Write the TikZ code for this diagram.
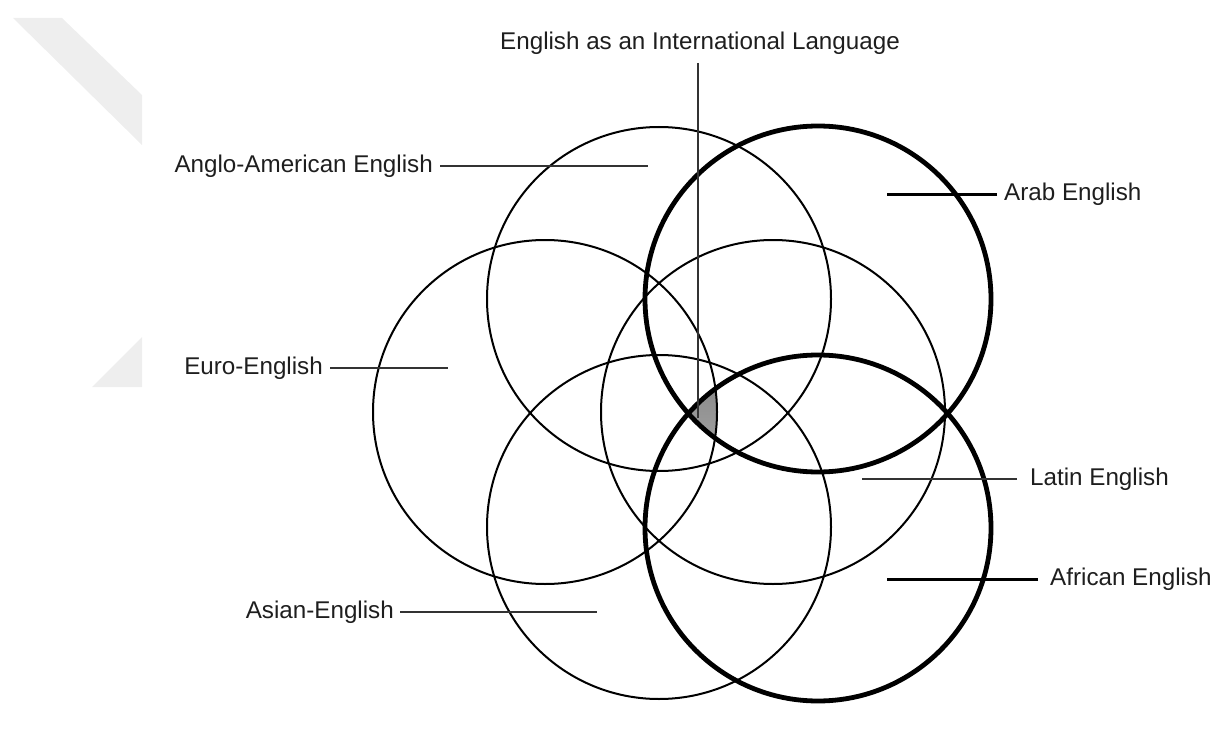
\documentclass[tikz,border=0pt]{standalone}
\usepackage{fontspec}
\setmainfont{Liberation Sans}
\definecolor{wm}{HTML}{EEEEEE}
\definecolor{shade}{HTML}{9A9A9A}
\definecolor{txt}{HTML}{1E1E1E}
\begin{document}
\begin{tikzpicture}[x=1pt,y=-1pt,
  thinring/.style={circle,draw=black,line width=2pt,inner sep=0pt},
  thickring/.style={circle,draw=black,line width=4.8pt,inner sep=0pt},
  lbl/.style={font=\fontsize{24.2}{27}\selectfont,text=txt,inner sep=0pt},
  thinlead/.style={draw=black!80,line width=1.3pt},
  thicklead/.style={draw=black,line width=3pt}]
\useasboundingbox (0,0) rectangle (1216,749);
% watermark
\fill[wm] (13,18) -- (62,18) -- (142,95) -- (142,145) -- cycle;
\fill[wm] (142,337) -- (142,387) -- (92,387) -- cycle;
% shaded common region
\begin{scope}
  \clip (659,299) circle[radius=172pt];
  \clip (818,299) circle[radius=173pt];
  \clip (545,412) circle[radius=172pt];
  \clip (773,412) circle[radius=172pt];
  \clip (659,527) circle[radius=172pt];
  \fill[shade] (818,528) circle[radius=173pt];
\end{scope}
% circles
\node[thinring,minimum size=344pt] (anglo) at (659,299) {};
\node[thinring,minimum size=344pt] (euro) at (545,412) {};
\node[thinring,minimum size=344pt] (latin) at (773,412) {};
\node[thinring,minimum size=344pt] (asian) at (659,527) {};
\node[thickring,minimum size=346pt] (arab) at (818,299) {};
\node[thickring,minimum size=346pt] (african) at (818,528) {};
% labels
\node[lbl,anchor=south] (eil) at (700,55) {English as an International Language};
\node[lbl,anchor=east] (langlo) at (433,166) {Anglo-American English};
\node[lbl,anchor=west] (larab) at (1004,194) {Arab English};
\node[lbl,anchor=east] (leuro) at (323,368) {Euro-English};
\node[lbl,anchor=west] (llatin) at (1030,479) {Latin English};
\node[lbl,anchor=west] (lafrican) at (1050,579) {African English};
\node[lbl,anchor=east] (lasian) at (394,612) {Asian-English};
% leader end points
\coordinate (peil) at (698,418);
\coordinate (eiltop) at (698,63);
\coordinate (panglo) at (648,166);
\coordinate (parab) at (887,194);
\coordinate (peuro) at (448,368);
\coordinate (platin) at (862,479);
\coordinate (pafrican) at (887,579);
\coordinate (pasian) at (597,612);
% leaders
\draw[thinlead] (eiltop) -- (peil);
\draw[thinlead] ([xshift=7pt]langlo.east) -- (panglo);
\draw[thicklead] ([xshift=-7pt]larab.west) -- (parab);
\draw[thinlead] ([xshift=7pt]leuro.east) -- (peuro);
\draw[thinlead] ([xshift=-13pt]llatin.west) -- (platin);
\draw[thicklead] ([xshift=-12pt]lafrican.west) -- (pafrican);
\draw[thinlead] ([xshift=6pt]lasian.east) -- (pasian);
\end{tikzpicture}
\end{document}
